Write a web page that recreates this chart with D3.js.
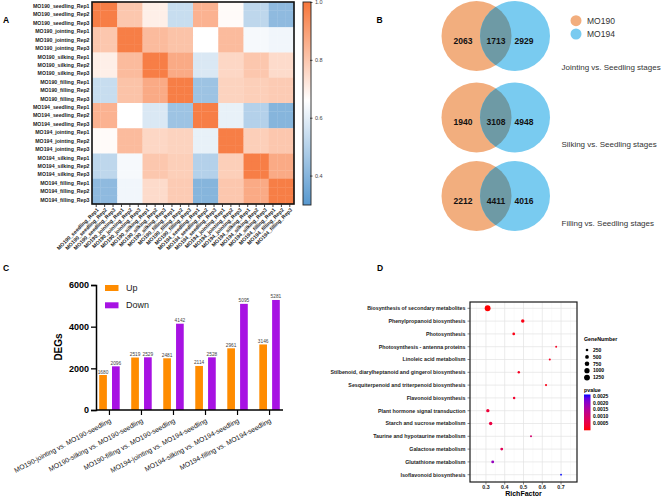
<!doctype html>
<html>
<head>
<meta charset="utf-8">
<title>DEG overview</title>
<script src="https://cdn.jsdelivr.net/npm/d3@7"></script>
<style>
  body { margin: 0; background: #fff; }
  svg text { font-family: Arial, "Liberation Sans", sans-serif; }
</style>
</head>
<body>
<svg id="fig" width="669" height="496"></svg>
<script>
// ---------- data: A (sample correlation) ----------
var groups = ["MO190_seedling", "MO190_jointing", "MO190_silking", "MO190_filling",
              "MO194_seedling", "MO194_jointing", "MO194_silking", "MO194_filling"];
var reps = ["Rep1", "Rep2", "Rep3"];
// mean correlation between groups
var groupCorr = [
  [0.98, 0.80, 0.70, 0.54, 0.85, 0.67, 0.52, 0.42],
  [0.80, 0.98, 0.83, 0.81, 0.66, 0.83, 0.64, 0.63],
  [0.70, 0.83, 0.98, 0.87, 0.58, 0.76, 0.80, 0.75],
  [0.54, 0.81, 0.87, 0.98, 0.45, 0.77, 0.78, 0.79],
  [0.85, 0.66, 0.58, 0.45, 0.98, 0.61, 0.50, 0.40],
  [0.67, 0.83, 0.76, 0.77, 0.61, 0.98, 0.78, 0.80],
  [0.52, 0.64, 0.80, 0.78, 0.50, 0.78, 0.98, 0.87],
  [0.42, 0.63, 0.75, 0.79, 0.40, 0.80, 0.87, 0.98]
];
var corrTicks = [0.4, 0.6, 0.8, 1.0];

// ---------- data: B (venn) ----------
var vennTitles = ["Jointing vs. Seedling stages", "Silking vs. Seedling stages", "Filling vs. Seedling stages"];
var onlyMO190 = [2063, 1940, 2212];
var sharedDEG = [1713, 3108, 4411];
var onlyMO194 = [2929, 4948, 4016];

// ---------- data: C (DEG counts) ----------
var comparisons = ["MO190-jointing vs. MO190-seedling", "MO190-silking vs. MO190-seedling",
                   "MO190-filling vs. MO190-seedling", "MO194-jointing vs. MO194-seedling",
                   "MO194-silking vs. MO194-seedling", "MO194-filling vs. MO194-seedling"];
var upDEG = [1680, 2519, 2481, 2114, 2961, 3146];
var downDEG = [2096, 2529, 4142, 2528, 5095, 5281];
var degTicks = [0, 2000, 4000, 6000];

// ---------- data: D (KEGG enrichment) ----------
var pathways = ["Biosynthesis of secondary metabolites", "Phenylpropanoid biosynthesis", "Photosynthesis",
  "Photosynthesis - antenna proteins", "Linoleic acid metabolism",
  "Stilbenoid, diarylheptanoid and gingerol biosynthesis", "Sesquiterpenoid and triterpenoid biosynthesis",
  "Flavonoid biosynthesis", "Plant hormone signal transduction", "Starch and sucrose metabolism",
  "Taurine and hypotaurine metabolism", "Galactose metabolism", "Glutathione metabolism",
  "Isoflavonoid biosynthesis"];
var richFactor = [0.309, 0.496, 0.448, 0.674, 0.640, 0.475, 0.620, 0.450, 0.310, 0.325, 0.540, 0.384, 0.336, 0.700];
var geneNumber = [1240, 430, 270, 140, 150, 210, 160, 220, 400, 420, 140, 290, 300, 110];
var pValue = [0.00001, 0.0001, 0.0001, 0.0002, 0.0002, 0.0002, 0.0001, 0.0003, 0.0004, 0.0005, 0.0010, 0.0007, 0.0019, 0.0026];
var sizeBreaks = [250, 500, 750, 1000, 1250];
var pBreaks = [0.0025, 0.0020, 0.0015, 0.0010, 0.0005];

var svg = d3.select("#fig");

function panelLabel(t, x, y) {
  svg.append("text").attr("x", x).attr("y", y).text(t)
    .style("font-size", "8.5px").style("font-weight", "bold");
}

// ================= A =================
var samples = [];
groups.forEach(function (g) { reps.forEach(function (r) { samples.push(g + "_" + r); }); });
var cells = [];
samples.forEach(function (a, i) {
  samples.forEach(function (b, j) {
    cells.push({ row: a, col: b, v: groupCorr[Math.floor(i / 3)][Math.floor(j / 3)] });
  });
});

var hx = d3.scaleBand().domain(samples).range([92, 294]);
var hy = d3.scaleBand().domain(samples).range([2, 204]);
var heatColor = d3.scaleLinear().domain([0.3, 0.66, 1.0]).range(["#5798cf", "#ffffff", "#f7763a"]);

var gA = svg.append("g");
gA.selectAll("rect.cell").data(cells).enter().append("rect")
  .attr("class", "cell")
  .attr("x", function (d) { return hx(d.col); })
  .attr("y", function (d) { return hy(d.row); })
  .attr("width", hx.bandwidth() + 0.3)
  .attr("height", hy.bandwidth() + 0.3)
  .style("fill", function (d) { return heatColor(d.v); });
gA.append("rect").attr("x", 92).attr("y", 2).attr("width", 202).attr("height", 202)
  .style("fill", "none").style("stroke", "#111").style("stroke-width", 1.6);

gA.selectAll("text.rowlab").data(samples).enter().append("text")
  .attr("class", "rowlab")
  .attr("x", 89.5)
  .attr("y", function (d) { return hy(d) + hy.bandwidth() / 2; })
  .attr("dy", "0.35em")
  .attr("text-anchor", "end")
  .style("font-size", "5.2px").style("font-weight", "bold").style("fill", "#1a1a1a")
  .text(function (d) { return d; });

gA.selectAll("line.coltick").data(samples).enter().append("line")
  .attr("x1", function (d) { return hx(d) + hx.bandwidth() / 2; })
  .attr("x2", function (d) { return hx(d) + hx.bandwidth() / 2; })
  .attr("y1", 204.5).attr("y2", 207)
  .style("stroke", "#111").style("stroke-width", 0.8);

gA.selectAll("text.collab").data(samples).enter().append("text")
  .attr("class", "collab")
  .attr("transform", function (d) {
    return "translate(" + (hx(d) + hx.bandwidth() / 2 + 1.5) + ",209) rotate(-45)";
  })
  .attr("dy", "0.35em")
  .attr("text-anchor", "end")
  .style("font-size", "5.2px").style("font-weight", "bold").style("fill", "#1a1a1a")
  .text(function (d) { return d; });

// colour bar
var grad = svg.append("defs").append("linearGradient").attr("id", "corrGrad")
  .attr("x1", 0).attr("y1", 1).attr("x2", 0).attr("y2", 0);
[0.3, 0.66, 1.0].forEach(function (v) {
  grad.append("stop").attr("offset", (v - 0.3) / 0.7).attr("stop-color", heatColor(v));
});
var cb = d3.scaleLinear().domain([0.3, 1.0]).range([205, 2.5]);
gA.append("rect").attr("x", 303).attr("y", 2).attr("width", 8).attr("height", 203)
  .style("fill", "url(#corrGrad)").style("stroke", "#222").style("stroke-width", 0.9);
gA.selectAll("line.cbt").data(corrTicks).enter().append("line")
  .attr("x1", 310).attr("x2", 312.5)
  .attr("y1", function (d) { return cb(d); }).attr("y2", function (d) { return cb(d); })
  .style("stroke", "#222").style("stroke-width", 0.8);
gA.selectAll("text.cbl").data(corrTicks).enter().append("text")
  .attr("x", 315).attr("y", function (d) { return cb(d); }).attr("dy", "0.35em")
  .style("font-size", "5.5px").style("fill", "#444")
  .text(function (d) { return d3.format(".1f")(d); });

panelLabel("A", 3, 23);

// ================= B =================
var vennRows = [36, 117.5, 196];
var r = 35;
var gB = svg.append("g");
var defs = svg.select("defs");
vennRows.forEach(function (cy, i) {
  defs.append("clipPath").attr("id", "clip190_" + i)
    .append("circle").attr("cx", 476.5).attr("cy", cy).attr("r", r);
  gB.append("circle").attr("cx", 476.5).attr("cy", cy).attr("r", r).style("fill", "#f2ae7e");
  gB.append("circle").attr("cx", 515).attr("cy", cy).attr("r", r).style("fill", "#79cbf0");
  gB.append("circle").attr("cx", 515).attr("cy", cy).attr("r", r)
    .attr("clip-path", "url(#clip190_" + i + ")").style("fill", "#6e9aa5");
  var nums = [[463, onlyMO190[i]], [496, sharedDEG[i]], [524, onlyMO194[i]]];
  nums.forEach(function (n) {
    gB.append("text").attr("x", n[0]).attr("y", cy + 5).attr("dy", "0.35em")
      .attr("text-anchor", "middle")
      .style("font-size", "8.5px").style("font-weight", "bold").style("fill", "#111")
      .text(n[1]);
  });
});
gB.selectAll("text.vt").data(vennTitles).enter().append("text")
  .attr("x", 561.5)
  .attr("y", function (d, i) { return [66.7, 144, 222.7][i]; })
  .attr("dy", "0.35em")
  .style("font-size", "8px").style("fill", "#333")
  .text(function (d) { return d; });
[["MO190", "#f2ae7e", 20.7], ["MO194", "#79cbf0", 34]].forEach(function (l) {
  gB.append("circle").attr("cx", 576).attr("cy", l[2]).attr("r", 5.5).style("fill", l[1]);
  gB.append("text").attr("x", 587).attr("y", l[2]).attr("dy", "0.35em")
    .style("font-size", "8.5px").style("fill", "#333").text(l[0]);
});
panelLabel("B", 376.5, 23);

// ================= C =================
var gC = svg.append("g");
var cx = d3.scaleBand().domain(comparisons).range([96, 283]).paddingInner(0.2).paddingOuter(0.02);
var sub = d3.scaleBand().domain(["Up", "Down"]).range([0, cx.bandwidth()]).paddingInner(0.4).paddingOuter(0.2);
var cy = d3.scaleLinear().domain([0, 6000]).range([410, 285]);
var barColor = { Up: "#ff8c00", Down: "#a712e3" };

var barData = [];
comparisons.forEach(function (c, i) {
  barData.push({ c: c, k: "Up", v: upDEG[i] });
  barData.push({ c: c, k: "Down", v: downDEG[i] });
});
gC.selectAll("rect.bar").data(barData).enter().append("rect")
  .attr("x", function (d) { return cx(d.c) + sub(d.k); })
  .attr("y", function (d) { return cy(d.v); })
  .attr("width", sub.bandwidth())
  .attr("height", function (d) { return cy(0) - cy(d.v); })
  .style("fill", function (d) { return barColor[d.k]; });
gC.selectAll("text.bv").data(barData).enter().append("text")
  .attr("x", function (d) { return cx(d.c) + sub(d.k) + sub.bandwidth() / 2; })
  .attr("y", function (d) { return cy(d.v) - 1.5; })
  .attr("text-anchor", "middle")
  .style("font-size", "4.8px").style("fill", "#444")
  .text(function (d) { return d.v; });

var yAxC = gC.append("g").attr("transform", "translate(96,0)")
  .call(d3.axisLeft(cy).tickValues(degTicks).tickSize(5).tickFormat(d3.format("d")));
yAxC.select(".domain").style("stroke-width", 1.5);
yAxC.selectAll(".tick line").style("stroke-width", 1.3);
yAxC.selectAll("text").style("font-size", "9px").style("font-weight", "bold").style("font-family", null).attr("x", -7);

var xAxC = gC.append("g").attr("transform", "translate(0,410)")
  .call(d3.axisBottom(cx).tickSize(5).tickFormat(""));
xAxC.select(".domain").style("stroke-width", 1.5).attr("d", "M96,0H283");
xAxC.selectAll(".tick line").style("stroke-width", 1.2);
gC.selectAll("text.xl").data(comparisons).enter().append("text")
  .attr("transform", function (d) {
    return "translate(" + (cx(d) + cx.bandwidth() / 2 + 1) + ",420) rotate(-28)";
  })
  .attr("text-anchor", "end")
  .attr("dy", "0.35em")
  .style("font-size", "6.8px").style("fill", "#111")
  .text(function (d) { return d; });

gC.append("text").attr("transform", "translate(62,347) rotate(-90)")
  .attr("text-anchor", "middle")
  .style("font-size", "10px").style("font-weight", "bold").text("DEGs");

[["Up", 285], ["Down", 302.3]].forEach(function (l) {
  gC.append("rect").attr("x", 105).attr("y", l[1]).attr("width", 13.5).attr("height", 6)
    .style("fill", barColor[l[0]]);
  gC.append("text").attr("x", 126).attr("y", l[1] + 3).attr("dy", "0.35em")
    .style("font-size", "9px").style("fill", "#222").text(l[0]);
});
panelLabel("C", 3, 271);

// ================= D =================
var gD = svg.append("g");
var dx = d3.scaleLinear().domain([0.215, 0.785]).range([470, 577]);
var dy = d3.scalePoint().domain(pathways).range([308.3, 474.7]);
var size = d3.scaleSqrt().domain([0, 1300]).range([0, 3]);
var pcol = d3.scaleLinear().domain([0, 0.0026]).range(["#ff0000", "#0000ff"]).interpolate(d3.interpolateLab);

var majorX = [0.3, 0.4, 0.5, 0.6, 0.7];
var minorX = [0.25, 0.35, 0.45, 0.55, 0.65, 0.75];
gD.append("rect").attr("x", 470).attr("y", 302).attr("width", 107).attr("height", 180).style("fill", "#fff");
gD.selectAll("line.mnx").data(minorX).enter().append("line")
  .attr("x1", function (d) { return dx(d); }).attr("x2", function (d) { return dx(d); })
  .attr("y1", 302).attr("y2", 482).style("stroke", "#f2f2f2").style("stroke-width", 0.4);
gD.selectAll("line.mjx").data(majorX).enter().append("line")
  .attr("x1", function (d) { return dx(d); }).attr("x2", function (d) { return dx(d); })
  .attr("y1", 302).attr("y2", 482).style("stroke", "#e3e3e3").style("stroke-width", 0.7);
gD.selectAll("line.mjy").data(pathways).enter().append("line")
  .attr("x1", 470).attr("x2", 577)
  .attr("y1", function (d) { return dy(d); }).attr("y2", function (d) { return dy(d); })
  .style("stroke", "#e3e3e3").style("stroke-width", 0.7);

var pts = pathways.map(function (p, i) {
  return { p: p, rf: richFactor[i], n: geneNumber[i], pv: pValue[i] };
});
gD.selectAll("circle.pt").data(pts).enter().append("circle")
  .attr("cx", function (d) { return dx(d.rf); })
  .attr("cy", function (d) { return dy(d.p); })
  .attr("r", function (d) { return size(d.n); })
  .style("fill", function (d) { return pcol(d.pv); });

gD.append("rect").attr("x", 470).attr("y", 302).attr("width", 107).attr("height", 180)
  .style("fill", "none").style("stroke", "#1a1a1a").style("stroke-width", 1.2);

gD.selectAll("line.yt").data(pathways).enter().append("line")
  .attr("x1", 467.5).attr("x2", 470)
  .attr("y1", function (d) { return dy(d); }).attr("y2", function (d) { return dy(d); })
  .style("stroke", "#333").style("stroke-width", 0.6);
gD.selectAll("text.yl").data(pathways).enter().append("text")
  .attr("x", 465.5).attr("y", function (d) { return dy(d); }).attr("dy", "0.35em")
  .attr("text-anchor", "end")
  .style("font-size", "5.3px").style("font-weight", "bold").style("fill", "#222")
  .text(function (d) { return d; });
gD.selectAll("line.xt").data(majorX).enter().append("line")
  .attr("x1", function (d) { return dx(d); }).attr("x2", function (d) { return dx(d); })
  .attr("y1", 482).attr("y2", 484.5).style("stroke", "#333").style("stroke-width", 0.6);
gD.selectAll("text.xtl").data(majorX).enter().append("text")
  .attr("x", function (d) { return dx(d); }).attr("y", 487.5).attr("dy", "0.35em")
  .attr("text-anchor", "middle")
  .style("font-size", "5.3px").style("font-weight", "bold").style("fill", "#222")
  .text(function (d) { return d3.format(".1f")(d); });
gD.append("text").attr("x", 523.5).attr("y", 495.5).attr("text-anchor", "middle")
  .style("font-size", "7px").style("font-weight", "bold").text("RichFactor");

// legends
gD.append("text").attr("x", 584).attr("y", 339).attr("dy", "0.35em")
  .style("font-size", "5.3px").style("font-weight", "bold").text("GeneNumber");
sizeBreaks.forEach(function (b, i) {
  var yy = 350 + i * 6.9;
  gD.append("circle").attr("cx", 587).attr("cy", yy).attr("r", size(b)).style("fill", "#000");
  gD.append("text").attr("x", 593).attr("y", yy).attr("dy", "0.35em")
    .style("font-size", "5px").style("font-weight", "bold").text(b);
});
gD.append("text").attr("x", 584).attr("y", 390).attr("dy", "0.35em")
  .style("font-size", "5.3px").style("font-weight", "bold").text("pvalue");
var pg = defs.append("linearGradient").attr("id", "pGrad")
  .attr("x1", 0).attr("y1", 1).attr("x2", 0).attr("y2", 0);
d3.range(0, 1.01, 0.1).forEach(function (t) {
  pg.append("stop").attr("offset", t).attr("stop-color", pcol(t * 0.0026));
});
var pyScale = d3.scaleLinear().domain([0, 0.0026]).range([430.3, 394.5]);
gD.append("rect").attr("x", 584).attr("y", 394.5).attr("width", 6.5).attr("height", 35.8)
  .style("fill", "url(#pGrad)");
pBreaks.forEach(function (b) {
  gD.append("text").attr("x", 593).attr("y", pyScale(b)).attr("dy", "0.35em")
    .style("font-size", "5px").style("font-weight", "bold").text(d3.format(".4f")(b));
});
panelLabel("D", 377, 271);
</script>
</body>
</html>
